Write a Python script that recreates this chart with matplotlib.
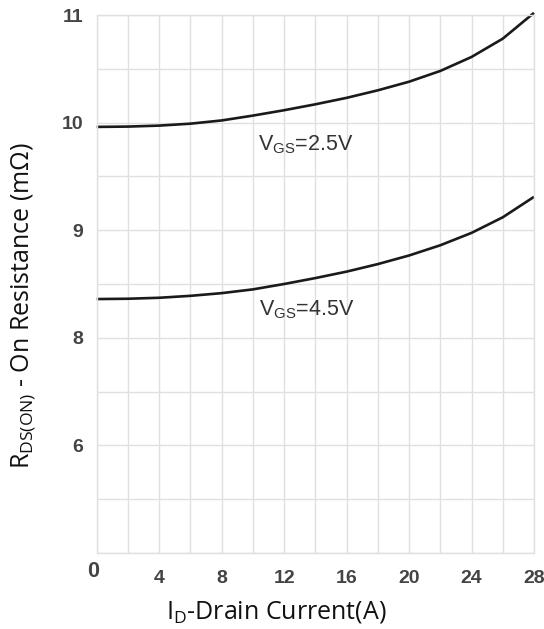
import matplotlib
matplotlib.use("Agg")
import matplotlib.pyplot as plt
import matplotlib.transforms as mtransforms

# Data
current = [0, 2, 4, 6, 8, 10, 12, 14, 16, 18, 20, 22, 24, 26, 28]
r_vgs25 = [9.96, 9.963, 9.972, 9.99, 10.02, 10.065, 10.115, 10.17, 10.23, 10.30, 10.38, 10.48, 10.61, 10.78, 11.02]
r_vgs45 = [8.36, 8.363, 8.372, 8.39, 8.415, 8.45, 8.50, 8.555, 8.615, 8.685, 8.765, 8.86, 8.975, 9.12, 9.31]

x_ticks = [4, 8, 12, 16, 20, 24, 28]
x_ticklabels = ["4", "8", "12", "16", "20", "24", "28"]
y_ticks = [7, 8, 9, 10, 11]
y_ticklabels = ["6", "8", "9", "10", "11"]

W, H = 544, 629
fig = plt.figure(figsize=(W / 100, H / 100), dpi=100)
ax = fig.add_axes([96.7 / W, 1 - 553 / H, (534 - 96.7) / W, (553 - 15) / H])

grid_c = "#e0e0e0"
ax.set_xlim(0, 28)
ax.set_ylim(6, 11)
ax.set_xticks(x_ticks)
ax.set_xticklabels(x_ticklabels)
ax.set_yticks(y_ticks)
ax.set_yticklabels(y_ticklabels)
ax.set_xticks(range(0, 29, 2), minor=True)
ax.set_yticks([6 + 0.5 * i for i in range(11)], minor=True)
ax.grid(which="both", color=grid_c, linewidth=1.0)
ax.set_axisbelow(True)
for s in ax.spines.values():
    s.set_color(grid_c)
    s.set_linewidth(1.0)

ax.tick_params(which="both", length=0)
ax.tick_params(axis="x", pad=12)
ax.tick_params(axis="y", pad=9.5)
for lab in ax.get_xticklabels() + ax.get_yticklabels():
    lab.set_fontfamily("Liberation Sans")
    lab.set_fontweight("bold")
    lab.set_fontsize(14)
    lab.set_color("#444444")

# the separately styled "0" label
trans0 = mtransforms.blended_transform_factory(ax.transData, ax.transAxes)
ax.text(-0.2, -0.035, "0", transform=trans0, ha="center", va="center",
        family="Liberation Sans", fontweight="bold", fontsize=15.5, color="#444444")

line_c = "#1a1a1a"
ax.plot(current, r_vgs25, color=line_c, linewidth=1.9, clip_on=False,
        solid_capstyle="butt", solid_joinstyle="round")
ax.plot(current, r_vgs45, color=line_c, linewidth=1.9, clip_on=False,
        solid_capstyle="butt", solid_joinstyle="round")

ax.text(10.33, 9.745, r"V$_{\mathregular{GS}}$=2.5V", ha="left", va="baseline",
        family="Liberation Sans", fontsize=15.5, color="#333333")
ax.text(10.4, 8.21, r"V$_{\mathregular{GS}}$=4.5V", ha="left", va="baseline",
        family="Liberation Sans", fontsize=15.5, color="#333333")

fig.text(276 / W, 1 - 612 / H, r"I$_{\mathregular{D}}$-Drain Current(A)",
         ha="center", va="center", family="Open Sans", fontsize=18, color="#111111")
fig.text(23 / W, 1 - 306 / H, r"R$_{\mathregular{DS(ON)}}$ - On Resistance (mΩ)",
         ha="center", va="center", rotation=90, family="Open Sans", fontsize=18,
         color="#111111")

fig.savefig("out.png", dpi=100)
